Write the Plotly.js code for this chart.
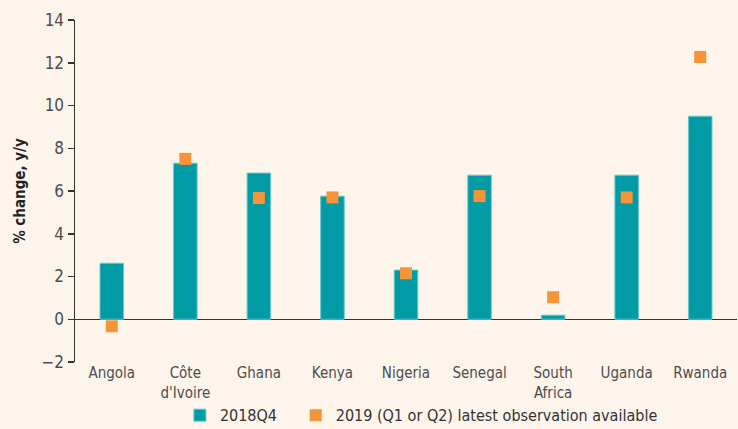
<!DOCTYPE html>
<html><head><meta charset="utf-8">
<script src="https://cdn.plot.ly/plotly-3.0.1.min.js"></script>
<style>html,body{margin:0;padding:0;background:#fdf4ec;}</style>
</head><body>
<div id="chart" style="width:738px;height:429px;"></div>
<script>
const categories = ["Angola", "Côte<br>d'Ivoire", "Ghana", "Kenya", "Nigeria", "Senegal", "South<br>Africa", "Uganda", "Rwanda"];
const q4_2018 = [2.62, 7.3, 6.84, 5.76, 2.3, 6.74, 0.19, 6.74, 9.5];
const latest_2019 = [-0.33, 7.5, 5.67, 5.7, 2.15, 5.76, 1.03, 5.7, 12.27];
const yTicks = [-2, 0, 2, 4, 6, 8, 10, 12, 14];

const font = "'DejaVu Sans Condensed', 'Liberation Sans Narrow', 'Roboto', sans-serif";

const traces = [
  {type: 'bar', x: categories, y: q4_2018, name: '2018Q4&nbsp;&nbsp;&nbsp;', width: 0.32,
   marker: {color: '#009ba5', line: {color: '#6cc7cc', width: 1}}},
  {type: 'scatter', mode: 'markers', x: categories, y: latest_2019,
   name: '2019 (Q1 or Q2) latest observation available',
   marker: {symbol: 'square', size: 12, color: '#f7943a'}}
];

const layout = {
  width: 738, height: 429,
  paper_bgcolor: '#fdf4ec', plot_bgcolor: 'rgba(0,0,0,0)',
  margin: {l: 75, r: 1, t: 20, b: 67},
  font: {family: font, color: '#4d4d4d', size: 15},
  showlegend: true,
  legend: {orientation: 'h', x: 0.571, xanchor: 'center', xref: 'container',
           y: 0.032, yanchor: 'middle', yref: 'container',
           font: {size: 16, color: '#333'}, traceorder: 'normal', itemwidth: 20,
           bgcolor: 'rgba(0,0,0,0)'},
  xaxis: {type: 'category', range: [-0.5, 8.5], showline: false, showgrid: false,
          ticks: '', tickfont: {size: 15, color: '#4d4d4d'}, fixedrange: true, automargin: false},
  yaxis: {range: [-2, 14], tickvals: yTicks, showgrid: false, automargin: false,
          showline: true, linecolor: '#333', linewidth: 1.5,
          ticks: 'outside', ticklen: 6, tickcolor: '#333', tickwidth: 1.5,
          zeroline: true, zerolinecolor: '#333', zerolinewidth: 1.3,
          tickfont: {size: 17, color: '#4d4d4d'},
          title: {text: '% change, y/y', font: {size: 15, color: '#222', family: font, weight: 'bold'}, standoff: 12}}
};

Plotly.newPlot('chart', traces, layout, {displayModeBar: false, staticPlot: true});
</script>
</body></html>
